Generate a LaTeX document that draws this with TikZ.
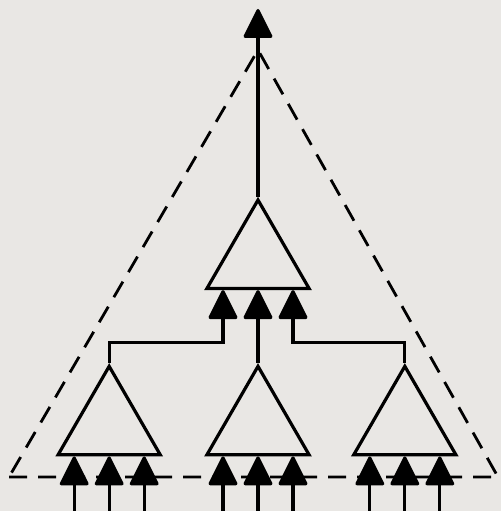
\documentclass[tikz,border=0pt]{standalone}
\usetikzlibrary{shapes.geometric, arrows.meta, positioning, calc}
\definecolor{paper}{RGB}{233,231,228}
\tikzset{
  gate/.style={
    regular polygon, regular polygon sides=3, draw=black,
    line width=3.2pt, minimum size=118pt, inner sep=0pt
  },
  sig/.style={line width=3.2pt, -{Triangle[length=31pt, width=30pt, round]}},
  bound/.style={line width=2.8pt, dash pattern=on 18pt off 11pt}
}

\begin{document}
\begin{tikzpicture}[x=1pt, y=1pt]

  \fill[paper] (0,0) rectangle (501,511);
  \useasboundingbox (0,0) rectangle (501,511);

  \coordinate (apex) at (258,461);
  \coordinate (bl)   at (9,34);
  \coordinate (br)   at (498,34);
  \coordinate (out)  at (258,502);

  \draw[bound] (bl) -- (br) -- (apex) -- cycle;

  \node[gate] (gt) at (258,252) {};
  \node[gate, below=73pt of gt] (gm) {};
  \node[gate, left=77pt of gm]  (gl) {};
  \node[gate, right=75pt of gm] (gr) {};

  \foreach \g in {gl,gm,gr}
    \foreach \dx in {-35,0,35}
      \draw[sig] ($(\g.south)+(\dx,-58)$) -- ($(\g.south)+(\dx,0)$);

  \draw[sig] (gl.corner 1) |- ($(gt.south)+(-35,-52)$) -- ($(gt.south)+(-35,0)$);
  \draw[sig] (gm.corner 1) -- (gt.south);
  \draw[sig] (gr.corner 1) |- ($(gt.south)+(35,-52)$) -- ($(gt.south)+(35,0)$);

  \draw[sig] (gt.corner 1) -- (out);

\end{tikzpicture}
\end{document}
